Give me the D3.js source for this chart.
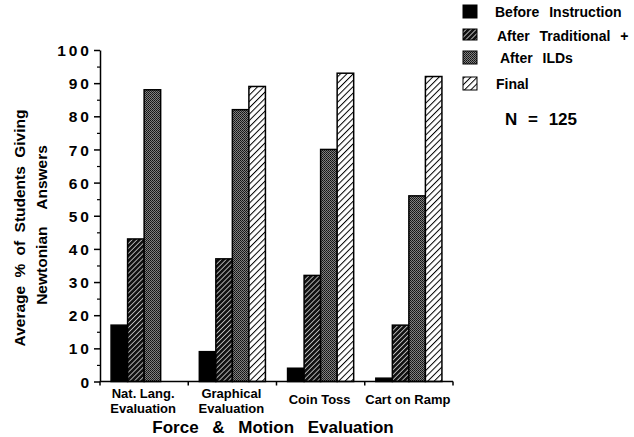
<!DOCTYPE html>
<html><head><meta charset="utf-8">
<script src="https://cdn.jsdelivr.net/npm/d3@7"></script>
<style>
body{margin:0;background:#fff}
svg text{font-family:"Liberation Sans",Arial,Helvetica,sans-serif;font-weight:bold;fill:#000}
</style></head>
<body><svg id="c" width="634" height="437"></svg>
<script>
const categories = [["Nat. Lang.","Evaluation"],["Graphical","Evaluation"],["Coin Toss"],["Cart on Ramp"]];
const seriesNames = ["Before Instruction","After Traditional +","After ILDs","Final"];
const before = [17, 9, 4, 1];
const afterTraditional = [43, 37, 32, 17];
const afterILDs = [88, 82, 70, 56];
const finalVals = [0, 89, 93, 92];
const yTicks = [0,10,20,30,40,50,60,70,80,90,100];
const yMinorTicks = [5,15,25,35,45,55,65,75,85,95];

const series = [before, afterTraditional, afterILDs, finalVals];
const fills = ["#000","url(#pTrad)","url(#pILD)","url(#pFinal)"];
const catKeys = categories.map(c=>c.join(" "));

const svg = d3.select("#c");
const defs = svg.append("defs");
let p = defs.append("pattern").attr("id","pTrad").attr("patternUnits","userSpaceOnUse")
  .attr("width",3.5).attr("height",3.5).attr("patternTransform","rotate(45)");
p.append("rect").attr("width",3.5).attr("height",3.5).attr("fill","#111");
p.append("line").attr("x1",0).attr("y1",0).attr("x2",0).attr("y2",3.5).attr("stroke","#fff").attr("stroke-width",1.3);
p = defs.append("pattern").attr("id","pILD").attr("patternUnits","userSpaceOnUse").attr("width",2).attr("height",2);
p.append("rect").attr("width",2).attr("height",2).attr("fill","#808080");
p.append("rect").attr("width",1).attr("height",1).attr("fill","#111");
p.append("rect").attr("x",1).attr("y",1).attr("width",1).attr("height",1).attr("fill","#222");
p = defs.append("pattern").attr("id","pFinal").attr("patternUnits","userSpaceOnUse")
  .attr("width",4.5).attr("height",4.5).attr("patternTransform","rotate(45)");
p.append("rect").attr("width",4.5).attr("height",4.5).attr("fill","#fff");
p.append("line").attr("x1",0).attr("y1",0).attr("x2",0).attr("y2",4.5).attr("stroke","#000").attr("stroke-width",2);

const x0 = d3.scaleBand().domain(catKeys).range([100,453]).padding(0);
const x1 = d3.scaleBand().domain(d3.range(4)).range([0,x0.bandwidth()]).paddingInner(0).paddingOuter(0.67);
const y = d3.scaleLinear().domain([0,100]).range([381.5,50]);

const g = svg.append("g");
catKeys.forEach((k,ci)=>{
  series.forEach((s,si)=>{
    if(s[ci] <= 0) return;
    g.append("rect")
      .attr("x", x0(k)+x1(si)).attr("width", x1.bandwidth())
      .attr("y", y(s[ci])).attr("height", y(0)-y(s[ci]))
      .attr("fill", fills[si]).attr("stroke","#000").attr("stroke-width",1.5);
  });
});

const yAxis = d3.axisLeft(y).tickValues(yTicks).tickSize(6).tickSizeOuter(0).tickPadding(2);
const ya = svg.append("g").attr("transform","translate(100,0)").call(yAxis);
ya.select(".domain").attr("stroke","#000").attr("stroke-width",1.5);
ya.selectAll(".tick line").attr("stroke-width",1.5);
ya.selectAll(".tick text").attr("font-family","DejaVu Sans").attr("font-size",15.5)
  .attr("font-weight","bold").style("letter-spacing","3px").attr("dy","0.36em");
svg.append("g").attr("transform","translate(100,0)")
  .call(d3.axisLeft(y).tickValues(yMinorTicks).tickSize(3).tickSizeOuter(0).tickFormat(""))
  .call(a=>a.select(".domain").remove())
  .selectAll(".tick line").attr("stroke-width",1.2);

svg.append("line").attr("x1",x0.range()[0]).attr("x2",x0.range()[1])
  .attr("y1",y(0)).attr("y2",y(0)).attr("stroke","#000").attr("stroke-width",1.5);
const bounds = catKeys.map(k=>x0(k)).concat([x0.range()[1]]);
svg.selectAll(".xt").data(bounds).enter().append("line")
  .attr("x1",d=>d).attr("x2",d=>d).attr("y1",y(0)).attr("y2",y(0)+4)
  .attr("stroke","#000").attr("stroke-width",1.5);

categories.forEach((lines,ci)=>{
  const cx = x0(catKeys[ci]) + x0.bandwidth()/2 - 1;
  const t = svg.append("text").attr("text-anchor","middle").attr("font-size",13)
    .attr("y", lines.length===1 ? 404 : 398);
  lines.forEach((ln,li)=>{
    t.append("tspan").attr("x",cx).attr("dy", li===0?0:15).text(ln);
  });
});

svg.append("text").attr("x",273).attr("y",433).attr("text-anchor","middle")
  .attr("font-size",17).style("word-spacing","9px").text("Force & Motion Evaluation");
svg.append("text").attr("transform","translate(25,228) rotate(-90)").attr("text-anchor","middle")
  .attr("font-size",15.5).style("word-spacing","4px").text("Average % of Students Giving");
svg.append("text").attr("transform","translate(47,225) rotate(-90)").attr("text-anchor","middle")
  .attr("font-size",15.5).style("word-spacing","13px").text("Newtonian Answers");

const legY = [5, 29, 51, 77];
const legX = [495, 497, 500, 496];
seriesNames.forEach((n,i)=>{
  svg.append("rect").attr("x",463).attr("y",legY[i]).attr("width",14).attr("height",i===1?11:13)
    .attr("fill",fills[i]).attr("stroke","#000").attr("stroke-width",1);
  svg.append("text").attr("x",legX[i]).attr("y",legY[i]+12).attr("font-size",14)
    .style("word-spacing","6px").text(n);
});
svg.append("text").attr("x",505).attr("y",125).attr("font-size",17)
  .style("word-spacing","6px").text("N = 125");
</script></body></html>
